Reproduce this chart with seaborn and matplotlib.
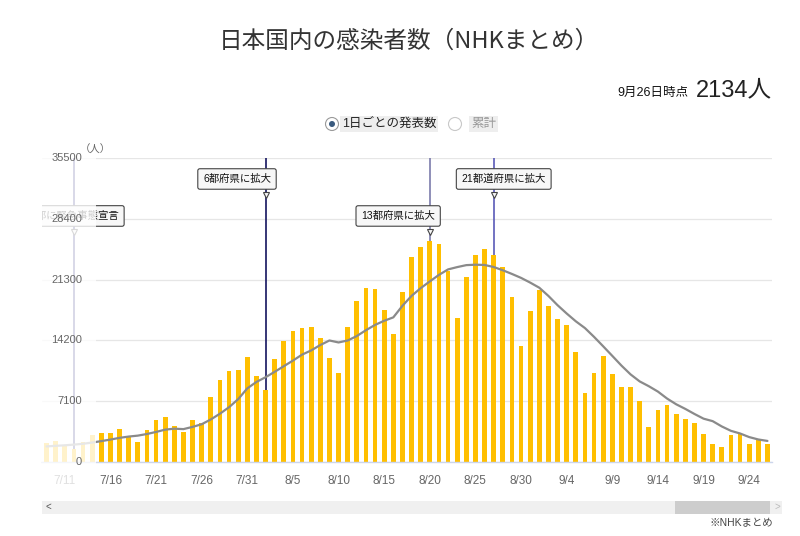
import numpy as np
import pandas as pd
import matplotlib
matplotlib.use("Agg")
import matplotlib.pyplot as plt
from matplotlib.patches import Rectangle, Ellipse
import seaborn as sns

# daily reported cases, 7/9 - 9/26
days = [f"{d.month}/{d.day}" for d in pd.date_range("2021-07-09", "2021-09-26")]
cases = [2200, 2400, 2000, 1500, 2380, 3190, 3420, 3420, 3800, 3050,
         2300, 3700, 4900, 5300, 4150, 3500, 4850, 4500, 7600, 9560,
         10650, 10720, 12300, 10100, 8390, 12000, 14150, 15250, 15600, 15750,
         14450, 12100, 10450, 15750, 18850, 20350, 20150, 17780, 14900, 19900,
         23900, 25150, 25850, 25450, 22260, 16800, 21550, 24230, 24920, 24200,
         22760, 19280, 13580, 17650, 20030, 18200, 16700, 15950, 12900, 8050,
         10450, 12350, 10300, 8800, 8750, 7150, 4120, 6100, 6670, 5620,
         4980, 4600, 3250, 2150, 1700, 3150, 3400, 2050, 2640, 2134]
# 7 day average (grey line)
avg7 = [1820, 1890, 1950, 2030, 2130, 2270, 2440, 2620, 2820, 2970,
        3080, 3270, 3510, 3780, 3890, 3840, 4100, 4410, 4970, 5640,
        6400, 7340, 8600, 9350, 9900, 10530, 11190, 11840, 12540, 13030,
        13660, 14190, 13960, 14190, 14710, 15390, 16010, 16490, 16890, 18240,
        19400, 20300, 21090, 21850, 22490, 22760, 22990, 23040, 23010, 22770,
        22390, 21960, 21500, 20950, 20350, 19390, 18310, 17340, 16430, 15640,
        14610, 13510, 12390, 11260, 10230, 9410, 8850, 8220, 7410, 6740,
        6200, 5610, 5060, 4770, 4150, 3640, 3330, 2910, 2630, 2460]
yticks = [0, 7100, 14200, 21300, 28400, 35500]

event_days = ["7/12", "8/2", "8/20", "8/27"]
event_text = ["東京都に緊急事態宣言", "6都府県に拡大", "13都府県に拡大", "21都道府県に拡大"]
event_color = ["#1f1f7a", "#14145f", "#7b7bab", "#5a5ab8"]

sns.set_theme(style="white")
plt.rcParams["font.family"] = ["Liberation Sans", "Noto Sans CJK JP", "DejaVu Sans"]

df = pd.DataFrame({"pos": np.arange(len(days)), "day": days, "cases": cases, "avg": avg7})

fig = plt.figure(figsize=(8, 5.36), dpi=100)
ax = fig.add_axes([42 / 800, 74 / 536, 730 / 800, 304 / 536])

sns.barplot(data=df, x="pos", y="cases", native_scale=True, color="#ffbf00",
            saturation=1, width=0.52, linewidth=0, errorbar=None, ax=ax, zorder=2)
sns.lineplot(data=df, x="pos", y="avg", color="#8a8a8a", lw=1.6, ax=ax, zorder=4)

# event lines + labels
label_dx = [4.93, -3.13, -3.47, 1.1]
label_ha = ["right", "center", "center", "center"]
label_y = [28730, 33050, 28730, 33050]
for d, txt, c, dx, ha, ly in zip(event_days, event_text, event_color, label_dx, label_ha, label_y):
    i = days.index(d)
    ax.vlines(i, cases[i], yticks[-1], color=c, lw=1.2, zorder=3)
    ax.text(i + dx, ly, txt, ha=ha, va="center", fontsize=7.5, color="#111", zorder=5,
            clip_on=True,
            bbox=dict(boxstyle="round,pad=0.5,rounding_size=0.2", fc="#f7f7f7", ec="#444", lw=0.8))
    ax.plot(i, ly - 1870, marker="v", ms=5, mfc="#f7f7f7", mec="#444", mew=0.8, zorder=5.5)

ax.set_xlim(-0.5, len(days) - 0.5)
ax.set_ylim(0, 35500)
ax.set_xticks(range(2, len(days), 5))
ax.set_xticklabels(days[2::5])
ax.set_yticks(yticks)
ax.set_yticklabels([])
ax.set_xlabel("")
ax.set_ylabel("")
ax.tick_params(axis="x", length=0, pad=9, labelsize=8.5, labelcolor="#666")
ax.tick_params(axis="y", length=0)
ax.set_axisbelow(True)
ax.grid(axis="y", color="#e6e6e6", lw=0.9)
for s in ["left", "right", "top"]:
    ax.spines[s].set_visible(False)
ax.spines["bottom"].set_color("#ccd6eb")
ax.spines["bottom"].set_linewidth(1)

# faded strip on the left (scrolled chart)
ax.add_patch(Rectangle((0, -0.09), 54 / 730, 1.09, transform=ax.transAxes, fc="white",
                       alpha=0.8, ec="none", zorder=6, clip_on=False))

for t in yticks:
    ax.text(40 / 730, t, str(t), transform=ax.get_yaxis_transform(), ha="right", va="center",
            fontsize=8, color="#666", zorder=7)
fig.text(95 / 800, 1 - 150 / 536, "（人）", ha="center", va="center", fontsize=7.5, color="#666")

fig.text(409 / 800, 1 - 41 / 536, "日本国内の感染者数（NHKまとめ）", ha="center", va="center",
         fontsize=17, color="#333", family=["Noto Sans CJK JP"])
fig.text(772 / 800, 1 - 96 / 536, "2134人", ha="right", va="baseline", fontsize=17, color="#222")
fig.text(688 / 800, 1 - 96 / 536, "9月26日時点", ha="right", va="baseline", fontsize=9, color="#111")

# radio buttons
ry = 1 - 124 / 536
fig.add_artist(Ellipse((332 / 800, ry), 13 / 800, 13 / 536, transform=fig.transFigure,
                       fc="white", ec="#9a9a9a", lw=0.8))
fig.add_artist(Ellipse((332 / 800, ry), 6 / 800, 6 / 536, transform=fig.transFigure,
                       fc="#3b5b7f", ec="none"))
fig.text(342 / 800, ry, "1日ごとの発表数", ha="left", va="center", fontsize=9, color="#222",
         bbox=dict(boxstyle="square,pad=0.15", fc="#eeeeee", ec="none"))
fig.add_artist(Ellipse((455 / 800, ry), 13 / 800, 13 / 536, transform=fig.transFigure,
                       fc="white", ec="#c8c8c8", lw=0.8))
fig.text(471 / 800, ry, "累計", ha="left", va="center", fontsize=9, color="#999",
         bbox=dict(boxstyle="square,pad=0.15", fc="#eeeeee", ec="none"))

# scrollbar
fig.add_artist(Rectangle((42 / 800, 1 - 514 / 536), 740 / 800, 13 / 536, transform=fig.transFigure,
                         fc="#f0f0f0", ec="none"))
fig.add_artist(Rectangle((675 / 800, 1 - 514 / 536), 95 / 800, 13 / 536, transform=fig.transFigure,
                         fc="#cdcdcd", ec="none"))
fig.text(48 / 800, 1 - 507 / 536, "<", ha="center", va="center", fontsize=7, color="#555")
fig.text(777 / 800, 1 - 507 / 536, ">", ha="center", va="center", fontsize=7, color="#bbb")
fig.text(773 / 800, 1 - 523 / 536, "※NHKまとめ", ha="right", va="center", fontsize=7.5, color="#444")

fig.savefig("out.png", dpi=100, facecolor="white")
